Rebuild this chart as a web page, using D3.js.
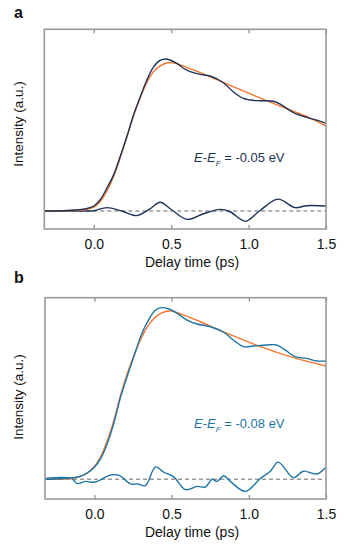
<!DOCTYPE html>
<html lang="en">
<head>
<meta charset="utf-8">
<title>Delay time traces</title>
<script src="https://d3js.org/d3.v7.min.js"></script>
<style>
body { margin: 0; background: #fff; font-family: "Liberation Sans", Arial, sans-serif; }
svg text { font-family: "Liberation Sans", Arial, sans-serif; fill: #111; }
</style>
</head>
<body>
<svg width="353" height="549"></svg>
<script>
// tick labels on the delay axis
var xTicks = [0, 0.5, 1.0, 1.5];

// panel a: measured trace, fit and residual (delay in ps, intensity in a.u.)
var timeA = [-0.32, -0.2, -0.1, -0.05, 0, 0.04, 0.084, 0.127, 0.17, 0.213, 0.256, 0.3, 0.342, 0.385, 0.428, 0.47,
  0.536, 0.579, 0.622, 0.686, 0.751, 0.837, 0.9, 0.966, 1.053, 1.16, 1.214, 1.29, 1.375, 1.44, 1.5];
var dataA = [0, 0.002, 0.008, 0.015, 0.033, 0.072, 0.149, 0.236, 0.357, 0.488, 0.63, 0.751, 0.86, 0.947, 0.991, 1.0,
  0.971, 0.939, 0.917, 0.899, 0.888, 0.844, 0.785, 0.741, 0.726, 0.722, 0.697, 0.647, 0.616, 0.598, 0.577];
var fitTimeA = [-0.32, -0.1, -0.05, 0, 0.04, 0.084, 0.127, 0.17, 0.213, 0.256, 0.3, 0.342, 0.385, 0.428, 0.47, 0.5,
  0.55, 0.6, 0.7, 0.8, 0.9, 1.0, 1.1, 1.2, 1.3, 1.4, 1.5];
var fitA = [0, 0.005, 0.01, 0.025, 0.06, 0.13, 0.225, 0.35, 0.485, 0.625, 0.745, 0.845, 0.915, 0.955, 0.974, 0.977,
  0.965, 0.945, 0.905, 0.862, 0.818, 0.775, 0.733, 0.692, 0.652, 0.61, 0.56];
var resTimeA = [-0.32, -0.1, 0, 0.084, 0.18, 0.278, 0.36, 0.428, 0.5, 0.6, 0.708, 0.816, 0.88, 0.98, 1.07, 1.19,
  1.3, 1.375, 1.5];
var resA = [0, 0, 0.002, 0.022, 0.0, -0.03, 0.012, 0.058, 0.01, -0.055, -0.018, 0.011, -0.005, -0.068, 0.0, 0.078,
  0.022, 0.035, 0.033];

// panel b
var timeB = [-0.32, -0.2, -0.1, -0.05, 0, 0.04, 0.084, 0.127, 0.17, 0.213, 0.256, 0.3, 0.342, 0.396, 0.439, 0.482,
  0.536, 0.6, 0.665, 0.751, 0.837, 0.9, 0.966, 1.03, 1.117, 1.18, 1.235, 1.3, 1.375, 1.44, 1.5];
var dataB = [0, 0.005, 0.015, 0.035, 0.07, 0.12, 0.21, 0.33, 0.48, 0.6, 0.715, 0.83, 0.912, 0.984, 0.998, 0.99,
  0.965, 0.926, 0.903, 0.887, 0.855, 0.81, 0.771, 0.775, 0.781, 0.781, 0.752, 0.713, 0.703, 0.688, 0.688];
var fitTimeB = [-0.32, -0.15, -0.1, -0.05, 0, 0.04, 0.084, 0.127, 0.17, 0.213, 0.256, 0.3, 0.342, 0.385, 0.43, 0.495,
  0.58, 0.686, 0.859, 1.074, 1.29, 1.5];
var fitB = [0, 0.005, 0.015, 0.035, 0.075, 0.13, 0.225, 0.345, 0.49, 0.615, 0.72, 0.815, 0.885, 0.935, 0.965, 0.978,
  0.955, 0.916, 0.849, 0.771, 0.707, 0.659];
var resTimeB = [-0.32, -0.15, -0.11, -0.06, 0, 0.105, 0.16, 0.235, 0.28, 0.33, 0.396, 0.45, 0.514, 0.59, 0.665,
  0.719, 0.762, 0.795, 0.837, 0.88, 0.977, 1.074, 1.14, 1.19, 1.29, 1.353, 1.44, 1.5];
var resB = [0.005, 0.005, -0.025, -0.012, -0.017, 0.025, 0.023, -0.027, -0.027, -0.037, 0.072, 0.041, 0.014, -0.06,
  -0.041, -0.045, 0.0, -0.012, 0.021, -0.012, -0.07, 0.004, 0.047, 0.1, 0.01, 0.047, 0.031, 0.072];

var svg = d3.select("svg");
var orange = "#f7762e";

function zip(ts, vs) {
  return ts.map(function(t, i) { return [t, vs[i]]; });
}

function drawPanel(p) {
  var g = svg.append("g");
  var x = d3.scaleLinear().domain([-0.32, 1.5]).range([p.left, 326]);
  var y = d3.scaleLinear().domain([0, 1]).range([p.zero, p.peak]);
  var line = d3.line()
    .x(function(d) { return x(d[0]); })
    .y(function(d) { return y(d[1]); })
    .curve(d3.curveCatmullRom.alpha(0.5));

  // zero line
  g.append("line")
    .attr("x1", p.left).attr("x2", 326)
    .attr("y1", y(0)).attr("y2", y(0))
    .attr("stroke", "#999").attr("stroke-width", 1.5)
    .attr("stroke-dasharray", "4,3");

  g.append("path").datum(zip(p.resT, p.res))
    .attr("d", line).attr("fill", "none")
    .attr("stroke", p.color).attr("stroke-width", 1.4);
  g.append("path").datum(zip(p.fitT, p.fit))
    .attr("d", line).attr("fill", "none")
    .attr("stroke", orange).attr("stroke-width", 1.4);
  g.append("path").datum(zip(p.t, p.data))
    .attr("d", line).attr("fill", "none")
    .attr("stroke", p.color).attr("stroke-width", 1.4);

  // frame
  g.append("rect")
    .attr("x", p.left).attr("y", p.top)
    .attr("width", 326 - p.left).attr("height", p.bottom - p.top)
    .attr("fill", "none").attr("stroke", "#9a9a9a").attr("stroke-width", 1.6);

  var bottom = d3.axisBottom(x).tickValues(xTicks).tickSizeInner(-4).tickSizeOuter(0)
    .tickFormat(d3.format(".1f"));
  var ax = g.append("g").attr("transform", "translate(0," + p.bottom + ")").call(bottom);
  ax.select(".domain").remove();
  ax.selectAll(".tick line").attr("stroke", "#9a9a9a").attr("stroke-width", 1.4);
  ax.selectAll(".tick text").attr("y", 0).attr("dy", null)
    .attr("transform", "translate(0," + (p.tickBase - p.bottom) + ")")
    .style("font-size", "14px").attr("fill", "#111");

  var top = d3.axisTop(x).tickValues(xTicks).tickSizeInner(-4).tickSizeOuter(0).tickFormat("");
  var at = g.append("g").attr("transform", "translate(0," + p.top + ")").call(top);
  at.select(".domain").remove();
  at.selectAll(".tick line").attr("stroke", "#9a9a9a").attr("stroke-width", 1.4);

  g.append("text")
    .attr("x", 192).attr("y", p.xLabelBase)
    .attr("text-anchor", "middle").style("font-size", "14px")
    .text("Delay time (ps)");

  g.append("text")
    .attr("transform", "translate(23," + p.yLabelMid + ") rotate(-90)")
    .attr("text-anchor", "middle").style("font-size", "13.5px")
    .text("Intensity (a.u.)");

  g.append("text")
    .attr("x", 14).attr("y", p.letterBase)
    .style("font-size", "16px").style("font-weight", "bold")
    .text(p.letter);

  var note = g.append("text")
    .attr("x", 194).attr("y", p.noteBase)
    .style("font-size", "13px").attr("fill", p.color).style("fill", p.color);
  note.append("tspan").style("font-style", "italic").text("E");
  note.append("tspan").text("-");
  note.append("tspan").style("font-style", "italic").text("E");
  note.append("tspan").style("font-style", "italic").style("font-size", "8px").attr("dy", 4).text("F");
  note.append("tspan").attr("dy", -4).text(" = " + p.energy + " eV");
}

drawPanel({
  letter: "a", left: 44.3, top: 29.3, bottom: 229, zero: 211, peak: 59,
  tickBase: 249, xLabelBase: 267, yLabelMid: 124, letterBase: 18, noteBase: 162,
  color: "#1d3358", energy: "-0.05",
  t: timeA, data: dataA, fitT: fitTimeA, fit: fitA, resT: resTimeA, res: resA
});

drawPanel({
  letter: "b", left: 45, top: 297.7, bottom: 499, zero: 479.3, peak: 307.3,
  tickBase: 518.5, xLabelBase: 537, yLabelMid: 397, letterBase: 283, noteBase: 427.5,
  color: "#1d75a6", energy: "-0.08",
  t: timeB, data: dataB, fitT: fitTimeB, fit: fitB, resT: resTimeB, res: resB
});
</script>
</body>
</html>
